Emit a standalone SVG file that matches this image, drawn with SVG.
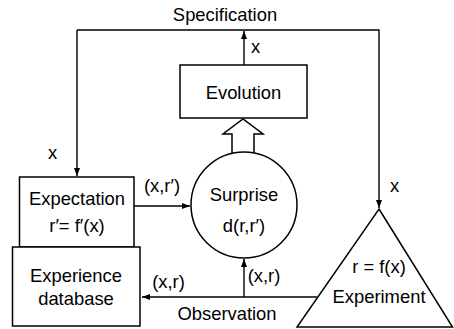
<svg xmlns="http://www.w3.org/2000/svg" width="454" height="329" viewBox="0 0 454 329">
  <defs>
    <marker id="arr" viewBox="0 0 8 6" refX="8" refY="3" markerWidth="8" markerHeight="6" markerUnits="userSpaceOnUse" orient="auto">
      <path d="M0,0 L8,3 L0,6 Z" fill="#000"/>
    </marker>
  </defs>
  <style>
    .shape { fill: #fff; stroke: #000; stroke-width: 1.5; }
    .line { fill: none; stroke: #000; stroke-width: 1.4; }
    .lbl { font-family: "Liberation Sans", Arial, sans-serif; font-size: 18.4px; fill: #000; }
    .mid { text-anchor: middle; }
  </style>
  <rect width="454" height="329" fill="#fff"/>

  <g id="connectors">
    <!-- specification loop: Evolution up, across, down both sides -->
    <path class="line" d="M244,65 L244,31" marker-end="url(#arr)"/>
    <path class="line" d="M77,30 L379,30 L379,208" marker-end="url(#arr)"/>
    <path class="line" d="M77,30 L77,176" marker-end="url(#arr)"/>
    <!-- expectation to surprise -->
    <path class="line" d="M134,206 L190,206" marker-end="url(#arr)"/>
    <!-- observation line -->
    <path class="line" d="M317,297 L142,297" marker-end="url(#arr)"/>
    <path class="line" d="M244,297 L244,259" marker-end="url(#arr)"/>
    <!-- hollow arrow from surprise to evolution -->
    <path class="shape" d="M232,154 L232,134 L223,134 L243,119 L263,134 L254,134 L254,154"/>
  </g>

  <g id="evolution">
    <rect class="shape" x="180" y="65" width="127" height="53"/>
    <text class="lbl mid" x="243.5" y="99">Evolution</text>
  </g>

  <g id="surprise">
    <circle class="shape" cx="244" cy="205" r="53"/>
    <text class="lbl mid" x="244" y="201">Surprise</text>
    <text class="lbl mid" x="244" y="232">d(r,r′)</text>
  </g>

  <g id="expectation">
    <rect class="shape" x="19.5" y="177" width="114.5" height="70"/>
    <text class="lbl mid" x="77" y="205">Expectation</text>
    <text class="lbl mid" x="77" y="232">r′= f′(x)</text>
  </g>

  <g id="experience">
    <rect class="shape" x="12.5" y="247" width="127.5" height="79"/>
    <text class="lbl mid" x="76" y="282">Experience</text>
    <text class="lbl mid" x="76" y="305">database</text>
  </g>

  <g id="experiment">
    <path class="shape" d="M379,209 L452.5,327 L297,327 Z"/>
    <text class="lbl mid" x="379" y="273">r = f(x)</text>
    <text class="lbl mid" x="379" y="303">Experiment</text>
  </g>

  <g id="labels">
    <text class="lbl mid" x="225" y="21">Specification</text>
    <text class="lbl" x="251" y="53">x</text>
    <text class="lbl" x="48" y="159">x</text>
    <text class="lbl" x="390" y="192">x</text>
    <text class="lbl mid" x="162" y="192">(x,r′)</text>
    <text class="lbl mid" x="168.5" y="288">(x,r)</text>
    <text class="lbl mid" x="264" y="282">(x,r)</text>
    <text class="lbl mid" x="227" y="320">Observation</text>
  </g>
</svg>
